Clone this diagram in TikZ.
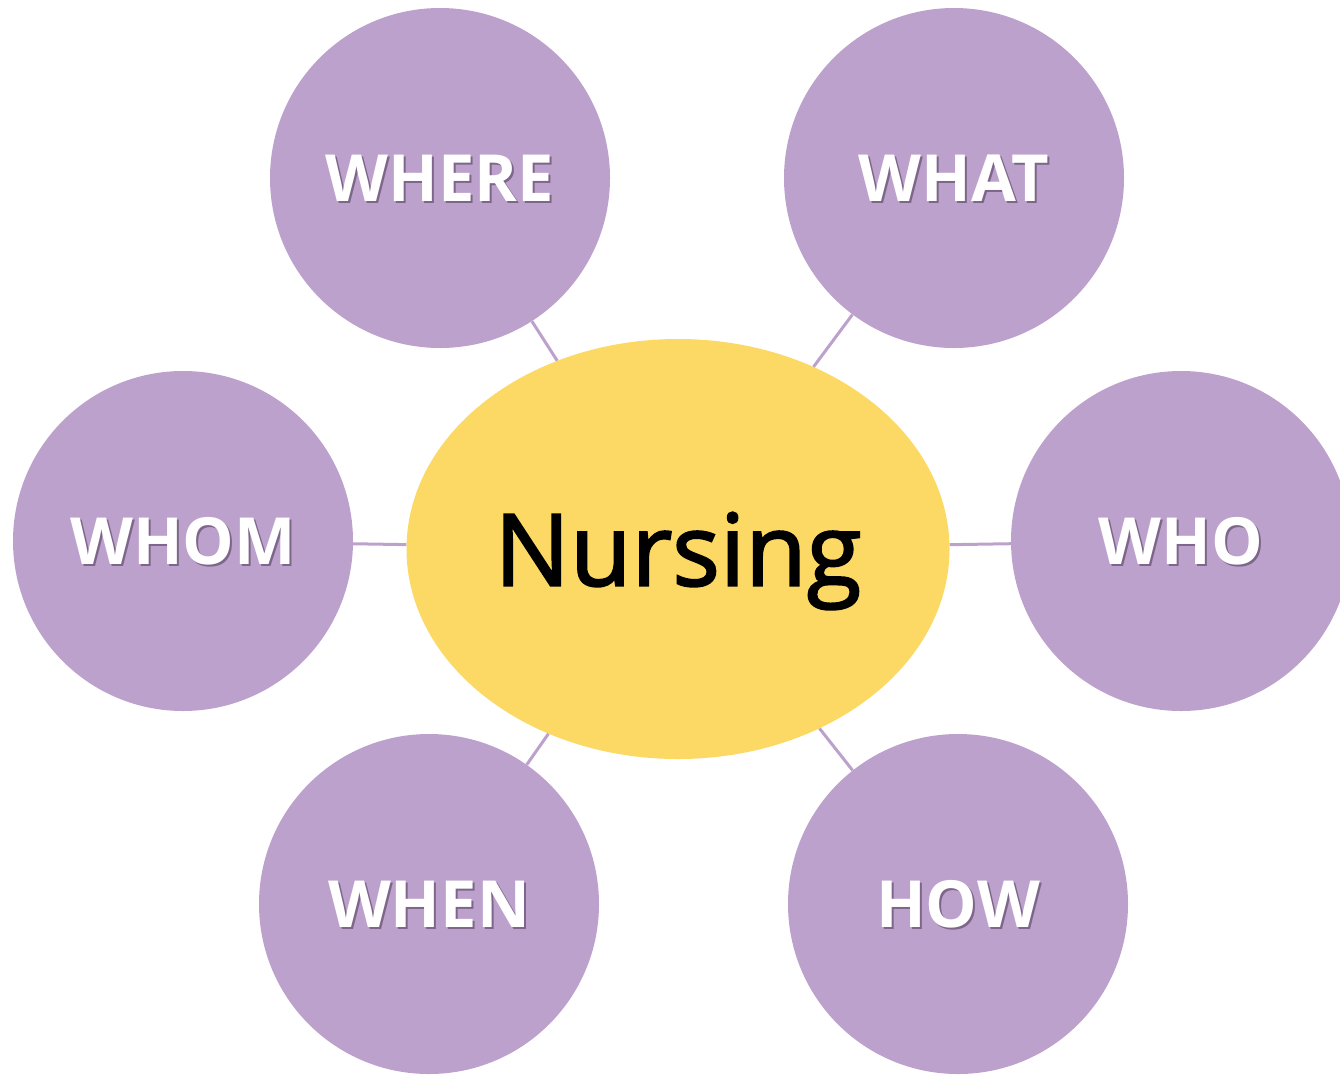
\documentclass[tikz,border=0pt]{standalone}
\usepackage{fontspec}
\setmainfont{Open Sans}
\newfontfamily\nursfont[FakeBold=2]{Open Sans}
\usetikzlibrary{shapes.geometric}
\definecolor{purp}{HTML}{BDA1CD}
\definecolor{yell}{HTML}{FCD864}
\definecolor{shcol}{HTML}{7D6689}
\newcommand\shtxt[1]{\rlap{\kern2pt\raisebox{-2pt}{\textcolor{shcol}{#1}}}#1}
\tikzset{
  qcircle/.style={circle, fill=purp, minimum size=340pt, inner sep=0pt, text=white,
    font=\fontsize{65}{65}\selectfont\bfseries, text depth=0pt},
  core/.style={ellipse, fill=yell, minimum width=543pt, minimum height=420pt, inner sep=0pt,
    font=\nursfont\fontsize{100}{100}\selectfont, text depth=0pt},
  link/.style={draw=purp, line width=3pt}
}
\begin{document}
\begin{tikzpicture}[x=1pt,y=-1pt]
\useasboundingbox (0,0) rectangle (1340,1077);
\clip (0,0) rectangle (1340,1077);
\node[core] (nurs) at (678,549) {Nursing};
\node[qcircle] (where) at (440,178) {\shtxt{WHERE}};
\node[qcircle] (what) at (954,178) {\shtxt{WHAT}};
\node[qcircle] (whom) at (183,541) {\shtxt{WHOM}};
\node[qcircle] (who) at (1181,541) {\shtxt{WHO}};
\node[qcircle] (when) at (429,904) {\shtxt{WHEN}};
\node[qcircle] (how) at (958,904) {\shtxt{HOW}};
\foreach \n in {where,what,whom,who,when,how}
  \draw[link] (nurs) -- (\n);
\end{tikzpicture}
\end{document}
